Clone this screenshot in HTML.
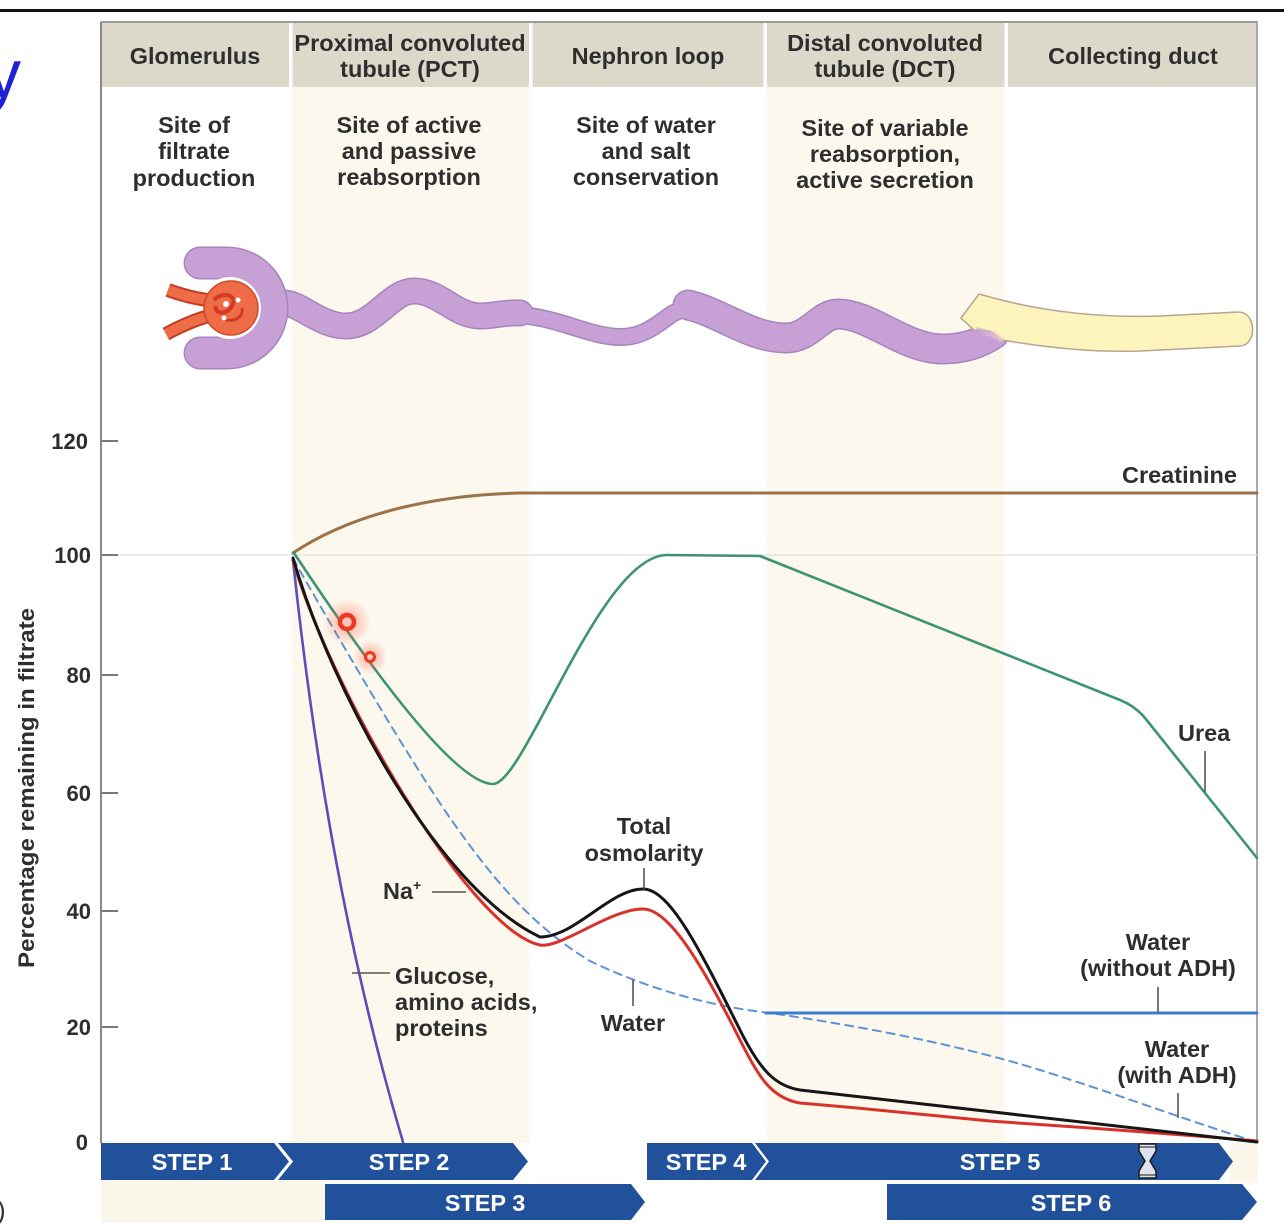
<!DOCTYPE html>
<html>
<head>
<meta charset="utf-8">
<style>
  html,body{margin:0;padding:0;background:#fff;}
  svg{display:block;}
  text{font-family:"Liberation Sans",Arial,sans-serif;}
  .h{font-size:23.5px;font-weight:bold;fill:#2e2e2e;text-anchor:middle;}
  .l{font-size:23.5px;font-weight:bold;fill:#2e2e2e;}
  .t{font-size:22px;font-weight:bold;fill:#2e2e2e;text-anchor:end;}
  .s{font-size:23.5px;font-weight:bold;fill:#ffffff;text-anchor:middle;}
  .c{stroke:#555;stroke-width:1.6;fill:none;}
</style>
</head>
<body>
<svg width="1284" height="1224" viewBox="0 0 1284 1224" xmlns="http://www.w3.org/2000/svg">
  <defs>
    <radialGradient id="glow" cx="50%" cy="50%" r="50%">
      <stop offset="0%" stop-color="#ff5a40" stop-opacity="0.5"/>
      <stop offset="100%" stop-color="#ff5a40" stop-opacity="0"/>
    </radialGradient>
    <linearGradient id="pg" x1="0" y1="0" x2="1" y2="0">
      <stop offset="0%" stop-color="#c7a0d6"/>
      <stop offset="100%" stop-color="#f7d9c8"/>
    </linearGradient>
  </defs>

  <!-- top black rule -->
  <rect x="0" y="9" width="1284" height="3" fill="#111"/>
  <!-- cut-off title "y" -->
  <text x="-14" y="98" style="font-size:70px;fill:#2020d8;">y</text>
  <!-- cut-off ")" -->
  <text x="-3" y="1219" style="font-size:26px;fill:#333;">)</text>

  <!-- cream columns -->
  <rect x="292" y="87" width="237" height="1056" fill="#fcf8ee"/>
  <rect x="767" y="87" width="237" height="1056" fill="#fcf8ee"/>
  <!-- step-row cream bits -->
  <rect x="101" y="1181" width="225" height="41" fill="#fbf6ea"/>
  <rect x="1230" y="1143" width="28" height="40" fill="#fbf6ea"/>

  <!-- header band -->
  <rect x="101" y="22" width="1157" height="65" fill="#dcd9cb"/>
  <rect x="289" y="22" width="3.5" height="65" fill="#fff"/>
  <rect x="529" y="22" width="3.5" height="65" fill="#fff"/>
  <rect x="763.5" y="22" width="3.5" height="65" fill="#fff"/>
  <rect x="1004.5" y="22" width="3.5" height="65" fill="#fff"/>
  <line x1="101" y1="22" x2="1258" y2="22" stroke="#9c9c9c" stroke-width="2"/>

  <!-- header text -->
  <text class="h" x="195" y="64">Glomerulus</text>
  <text class="h" x="410" y="51">Proximal convoluted</text>
  <text class="h" x="410" y="77">tubule (PCT)</text>
  <text class="h" x="648" y="64">Nephron loop</text>
  <text class="h" x="885" y="51">Distal convoluted</text>
  <text class="h" x="885" y="77">tubule (DCT)</text>
  <text class="h" x="1133" y="64">Collecting duct</text>

  <!-- sub text -->
  <text class="h" x="194" y="133">Site of</text>
  <text class="h" x="194" y="159">filtrate</text>
  <text class="h" x="194" y="186">production</text>
  <text class="h" x="409" y="133">Site of active</text>
  <text class="h" x="409" y="159">and passive</text>
  <text class="h" x="409" y="185">reabsorption</text>
  <text class="h" x="646" y="133">Site of water</text>
  <text class="h" x="646" y="159">and salt</text>
  <text class="h" x="646" y="185">conservation</text>
  <text class="h" x="885" y="136">Site of variable</text>
  <text class="h" x="885" y="162">reabsorption,</text>
  <text class="h" x="885" y="188">active secretion</text>

  <!-- axes / frame -->
  <line x1="101" y1="22" x2="101" y2="1143" stroke="#8a8a8a" stroke-width="2"/>
  <line x1="1257" y1="22" x2="1257" y2="1143" stroke="#a8a8a8" stroke-width="2"/>
  <line x1="101" y1="555" x2="1257" y2="555" stroke="#e4e4e4" stroke-width="1.5"/>
  <g stroke="#7a7a7a" stroke-width="2">
    <line x1="101" y1="441" x2="118" y2="441"/>
    <line x1="101" y1="555" x2="118" y2="555"/>
    <line x1="101" y1="675" x2="118" y2="675"/>
    <line x1="101" y1="793" x2="118" y2="793"/>
    <line x1="101" y1="911" x2="118" y2="911"/>
    <line x1="101" y1="1027" x2="118" y2="1027"/>
  </g>
  <text class="t" x="88" y="449">120</text>
  <text class="t" x="91" y="563">100</text>
  <text class="t" x="91" y="683">80</text>
  <text class="t" x="91" y="801">60</text>
  <text class="t" x="91" y="919">40</text>
  <text class="t" x="91" y="1035">20</text>
  <text class="t" x="88" y="1150">0</text>
  <text transform="translate(34,788) rotate(-90)" text-anchor="middle" textLength="360" lengthAdjust="spacingAndGlyphs" style="font-size:22.5px;font-weight:bold;fill:#2e2e2e;">Percentage remaining in filtrate</text>

  <!-- nephron illustration -->
  <g fill="none" stroke-linecap="round" stroke-linejoin="round">
    <path d="M284,303 C300,303 320,326 346,326 C375,326 390,291 414,291 C440,291 455,316 480,316 C495,316 505,312 520,313" stroke="#a585bd" stroke-width="27"/>
    <path d="M520,315 C560,318 590,337 621,337 C645,337 660,322 672,314 L688,306" stroke="#a585bd" stroke-width="18"/>
    <path d="M688,305 C720,312 750,338 786,338 C810,338 820,314 838,314 C870,314 905,349 942,349 C965,349 980,343 994,334" stroke="#a585bd" stroke-width="31"/>
    <path d="M284,303 C300,303 320,326 346,326 C375,326 390,291 414,291 C440,291 455,316 480,316 C495,316 505,312 520,313" stroke="#c7a0d6" stroke-width="24"/>
    <path d="M520,315 C560,318 590,337 621,337 C645,337 660,322 672,314 L688,306" stroke="#c7a0d6" stroke-width="15"/>
    <path d="M688,305 C720,312 750,338 786,338 C810,338 820,314 838,314 C870,314 905,349 942,349 C965,349 980,343 994,334" stroke="#c7a0d6" stroke-width="28"/>
    <!-- capsule -->
    <path d="M200,263 L227,263 A45,45 0 0 1 227,353 L200,353" stroke="#a585bd" stroke-width="33"/>
    <path d="M200,263 L227,263 A45,45 0 0 1 227,353 L200,353" stroke="#c7a0d6" stroke-width="30"/>
  </g>
  <circle cx="230" cy="308" r="31" fill="#fff"/>
  <!-- arterioles -->
  <g fill="none" stroke-linecap="butt">
    <path d="M168,290 C190,298 205,300 222,302" stroke="#c23d26" stroke-width="14"/>
    <path d="M166,334 C188,322 205,316 222,313" stroke="#c23d26" stroke-width="14"/>
    <path d="M168,290 C190,298 205,300 222,302" stroke="#ee6d47" stroke-width="10"/>
    <path d="M166,334 C188,322 205,316 222,313" stroke="#ee6d47" stroke-width="10"/>
  </g>
  <circle cx="231" cy="308" r="27" fill="#ee6d47" stroke="#cc4a2c" stroke-width="1.5"/>
  <path d="M214,300 C224,290 238,296 232,306 C226,316 214,314 216,306" fill="none" stroke="#d23a22" stroke-width="4"/>
  <path d="M222,318 C232,324 244,318 242,308" fill="none" stroke="#d23a22" stroke-width="3"/>
  <circle cx="226" cy="304" r="3" fill="#fff"/>
  <circle cx="238" cy="300" r="2.5" fill="#fff"/>
  <circle cx="224" cy="318" r="2.5" fill="#fff"/>
  <!-- collecting duct -->
  <path d="M979,294 C1040,312 1100,318 1160,316 L1238,312 C1256,311 1258,345 1240,346 L1160,350 C1100,354 1050,348 1002,340 L990,331 L974,330 L961,318 Z" fill="#fdf3bd" stroke="#b9a48f" stroke-width="1.5"/>
  <path d="M976,330 C985,332 995,334 1003,340" fill="none" stroke="url(#pg)" stroke-width="6" opacity="0.6"/>

  <!-- curves -->
  <g fill="none" stroke-linecap="round" stroke-linejoin="round">
    <path d="M293,553 C350,515 430,495 520,493 L1257,493" stroke="#9b7249" stroke-width="3"/>
    <path d="M294,553 C345,630 450,784 493,784 C525,784 600,555 667,555 L760,556 L1120,700 Q1135,706 1145,718 L1257,858" stroke="#3d9373" stroke-width="2.6"/>
    <path d="M293,558 L300,571 C340,640 400,745 450,818 C490,875 530,925 590,961 C640,985 700,1005 770,1013 C860,1026 960,1045 1040,1070 C1120,1095 1200,1125 1257,1142" stroke="#5b93d6" stroke-width="2" stroke-dasharray="8,6"/>
    <line x1="766" y1="1013" x2="1257" y2="1013" stroke="#3a7dcf" stroke-width="3"/>
    <path d="M293,560 C310,720 340,930 403,1142" stroke="#5a4fb8" stroke-width="2.6"/>
    <path d="M293,560 C330,690 470,930 540,945 C560,949 610,909 643,909 C668,909 700,960 740,1040 C758,1075 770,1098 800,1103 L857,1108 L990,1121 L1090,1128 L1210,1137 L1257,1141" stroke="#d9322a" stroke-width="3"/>
    <path d="M293,558 C333,695 440,890 540,937 C575,937 610,889 643,889 C670,889 700,950 740,1030 C760,1070 775,1086 800,1090 L1257,1142" stroke="#161616" stroke-width="3"/>
  </g>

  <!-- red cursor dots -->
  <circle cx="347" cy="622" r="24" fill="url(#glow)"/>
  <circle cx="370" cy="657" r="17" fill="url(#glow)"/>
  <circle cx="347" cy="622" r="7" fill="#f7c9bd" stroke="#ea3a22" stroke-width="4.5"/>
  <circle cx="370" cy="657" r="4.5" fill="#f7c9bd" stroke="#ea3a22" stroke-width="3"/>

  <!-- labels -->
  <text class="l" x="1122" y="483">Creatinine</text>
  <text class="l" x="1178" y="741">Urea</text>
  <line class="c" x1="1205" y1="751" x2="1205" y2="792"/>
  <text class="h" x="644" y="834">Total</text>
  <text class="h" x="644" y="861">osmolarity</text>
  <line class="c" x1="644" y1="868" x2="644" y2="889"/>
  <text class="l" x="383" y="899">Na<tspan style="font-size:14px" dy="-9">+</tspan></text>
  <line class="c" x1="432" y1="892" x2="466" y2="892"/>
  <text class="l" x="395" y="984">Glucose,</text>
  <text class="l" x="395" y="1010">amino acids,</text>
  <text class="l" x="395" y="1036">proteins</text>
  <line class="c" x1="352" y1="973" x2="390" y2="973"/>
  <text class="h" x="633" y="1031">Water</text>
  <line class="c" x1="633" y1="980" x2="633" y2="1006"/>
  <text class="h" x="1158" y="950">Water</text>
  <text class="h" x="1158" y="976">(without ADH)</text>
  <line class="c" x1="1158" y1="987" x2="1158" y2="1012"/>
  <text class="h" x="1177" y="1057">Water</text>
  <text class="h" x="1177" y="1083">(with ADH)</text>
  <line class="c" x1="1178" y1="1093" x2="1178" y2="1118"/>

  <!-- steps -->
  <g fill="#21519b">
    <path d="M101,1143 L274,1143 L289,1161.5 L274,1180 L101,1180 Z"/>
    <path d="M278,1143 L513,1143 L528,1161.5 L513,1180 L278,1180 L293,1161.5 Z"/>
    <path d="M647,1143 L752,1143 L766,1161.5 L752,1180 L647,1180 Z"/>
    <path d="M755,1143 L1219,1143 L1233,1161.5 L1219,1180 L755,1180 L769,1161.5 Z"/>
    <path d="M325,1184 L631,1184 L645,1202 L631,1220 L325,1220 Z"/>
    <path d="M887,1184 L1242,1184 L1257,1202 L1242,1220 L887,1220 Z"/>
  </g>
  <text class="s" x="192" y="1170">STEP 1</text>
  <text class="s" x="409" y="1170">STEP 2</text>
  <text class="s" x="706" y="1170">STEP 4</text>
  <text class="s" x="1000" y="1170">STEP 5</text>
  <text class="s" x="485" y="1211">STEP 3</text>
  <text class="s" x="1071" y="1211">STEP 6</text>
  <!-- hourglass -->
  <path d="M1139,1144 L1156,1144 L1156,1151 L1150,1161 L1156,1171 L1156,1178 L1139,1178 L1139,1171 L1145,1161 L1139,1151 Z" fill="#dde3ee" stroke="#1a1a1a" stroke-width="1.5"/>
  <line x1="1139" y1="1147" x2="1156" y2="1147" stroke="#1a1a1a" stroke-width="1"/>
  <line x1="1139" y1="1175" x2="1156" y2="1175" stroke="#1a1a1a" stroke-width="1"/>
</svg>
</body>
</html>
